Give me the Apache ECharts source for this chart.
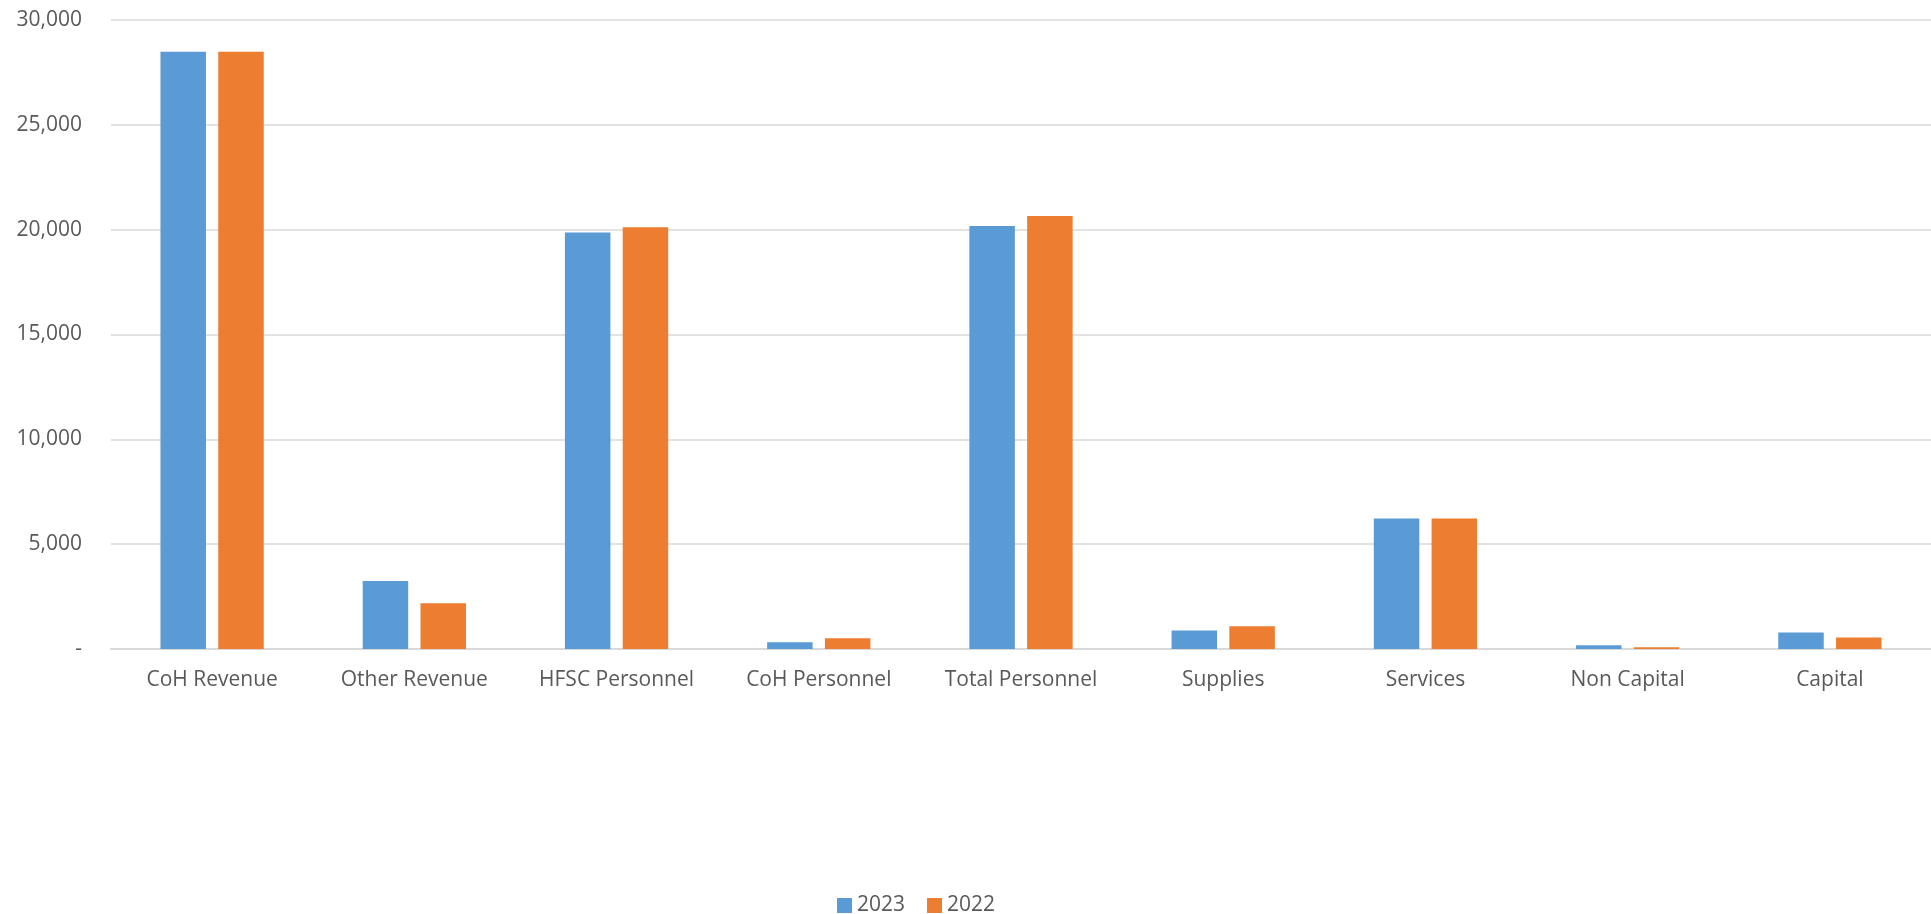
<!DOCTYPE html>
<html>
<head>
<meta charset="utf-8">
<script src="https://cdn.jsdelivr.net/npm/echarts@6/dist/echarts.min.js"></script>
<style>
html,body{margin:0;padding:0;background:#fff;}
#chart{width:1931px;height:914px;}
</style>
</head>
<body>
<div id="chart"></div>
<script>
const categories = ['CoH Revenue','Other Revenue','HFSC Personnel','CoH Personnel','Total Personnel','Supplies','Services','Non Capital','Capital'];
const values2023 = [28490, 3245, 19870, 320, 20180, 880, 6220, 175, 785];
const values2022 = [28490, 2180, 20120, 510, 20650, 1080, 6230, 80, 545];
const seriesNames = ['2023','2022'];
const yTicks = {min: 0, max: 30000, interval: 5000};

const chart = echarts.init(document.getElementById('chart'));
const textColor = '#595959';
const fontFamily = '"Open Sans", sans-serif';
chart.setOption({
  animation: false,
  grid: {left: 111, right: 0, top: 20, bottom: 265},
  legend: {
    top: 895,
    left: 837,
    padding: 0,
    itemWidth: 15,
    itemHeight: 15,
    itemGap: 22,
    icon: 'rect',
    textStyle: {color: textColor, fontSize: 21, fontFamily: fontFamily},
    data: seriesNames
  },
  xAxis: {
    type: 'category',
    data: categories,
    axisLine: {lineStyle: {color: '#d9d9d9', width: 2}},
    axisTick: {show: false},
    axisLabel: {color: textColor, fontSize: 21, fontFamily: fontFamily, margin: 21}
  },
  yAxis: {
    type: 'value',
    min: yTicks.min, max: yTicks.max, interval: yTicks.interval,
    axisLine: {show: false},
    axisTick: {show: false},
    splitLine: {lineStyle: {color: '#d9d9d9', width: 1.5}},
    axisLabel: {
      color: textColor, fontSize: 21, fontFamily: fontFamily, margin: 29,
      formatter: v => v === 0 ? '-' : v.toLocaleString('en-US')
    }
  },
  series: [
    {name: seriesNames[0], type: 'bar', data: values2023, barWidth: 45.5, barGap: '27%',
     itemStyle: {color: '#5B9BD5'}},
    {name: seriesNames[1], type: 'bar', data: values2022, barWidth: 45.5, barGap: '27%',
     itemStyle: {color: '#ED7D31'}}
  ]
});
</script>
</body>
</html>
